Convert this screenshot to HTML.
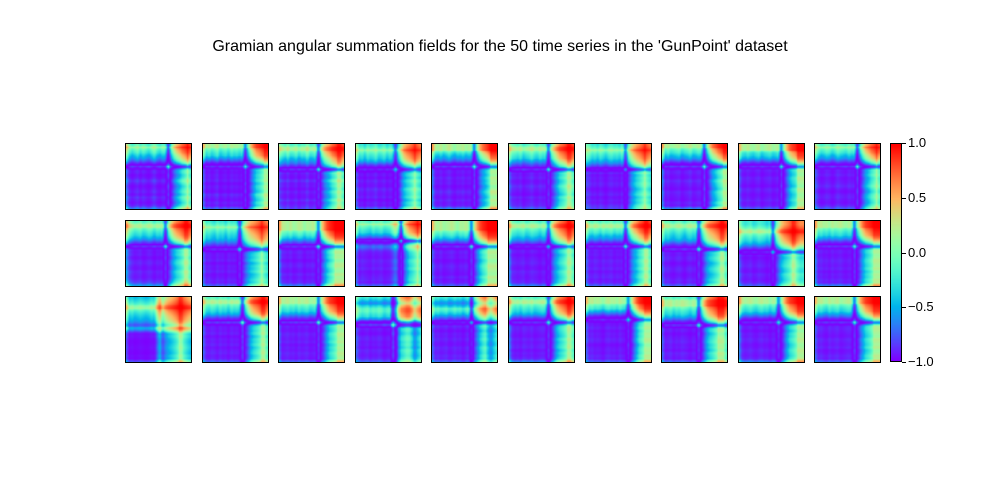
<!DOCTYPE html>
<html><head><meta charset="utf-8"><style>
body{margin:0;background:#fff;width:1000px;height:500px;overflow:hidden;position:relative;font-family:"Liberation Sans","DejaVu Sans",sans-serif}
.title{position:absolute;left:0;width:1000px;top:38px;text-align:center;font-size:16px;color:#000}
canvas.cell{position:absolute;width:67px;height:67px;box-sizing:border-box;border:1px solid #000}
.tick{position:absolute;left:908px;font-size:13px;color:#000}
.tm{position:absolute;left:902px;width:4px;height:1px;background:#000}
</style></head><body>
<div class="title">Gramian angular summation fields for the 50 time series in the 'GunPoint' dataset</div>
<div id="grid"></div>
<canvas id="cbar" width="12" height="220" style="position:absolute;left:890px;top:143px;width:12px;height:219px;box-sizing:border-box;border:1px solid #000"></canvas>
<div id="ticks"></div>
<script>
const s01=[0.6,0.25,0.1,0.2,0.3,0.1,0.25,0.15,0.05,0.2,0.35,0.15,0.05,0.2,0.15,-0.8,0.1,0.5,0.7,0.8,0.9,0.95,1,0.95];
const s02=[0.5,0.15,0.25,0.1,0.2,0.3,0.05,0.15,0.2,0.05,0.25,0.15,0.2,0.1,0.2,-0.75,0,0.45,0.7,0.85,0.9,0.95,1,1];
const s03=[0.4,0.25,0.15,0.3,0.1,0.15,0.25,0.05,0.2,0.15,0.35,0.1,0.15,0.25,-0.8,0.2,0.55,0.7,0.8,0.9,0.95,1,1,0.95];
const s04=[0.5,0.15,0.2,0.05,0.25,0.15,0.2,0.3,0.1,0.15,0.25,0.05,0.2,0.1,-0.7,0.1,0.5,0.75,0.85,0.9,0.95,1,0.95,0.9];
const s05=[0.6,0.2,0.15,0.25,0.1,0.2,0.3,0.15,0.05,0.2,0.15,0.25,0.1,0.2,0.15,-0.8,0.05,0.5,0.7,0.8,0.9,1,1,1];
const s06=[0.5,0.25,0.2,0.15,0.25,0.05,0.15,0.2,0.3,0.15,0.1,0.25,0.15,0.2,-0.8,0.2,0.5,0.7,0.85,0.9,0.95,1,1,0.95];
const s07=[0.4,0.3,0.15,0.2,0.1,0.25,0.15,0.05,0.2,0.25,0.15,0.2,0.1,0.3,-0.6,0.3,0.6,0.75,0.85,0.9,0.95,1,0.95,0.9];
const s08=[0.6,0.15,0.25,0.1,0.15,0.2,0.25,0.05,0.15,0.2,0.3,0.1,0.15,0.25,0.15,-0.8,0,0.45,0.7,0.8,0.9,0.95,1,1];
const s09=[0.5,0.2,0.15,0.25,0.15,0.1,0.2,0.25,0.05,0.15,0.2,0.25,0.1,0.15,0.25,-0.75,0.1,0.5,0.75,0.85,0.9,1,1,1];
const s10=[0.5,0.25,0.1,0.15,0.25,0.2,0.05,0.15,0.3,0.2,0.15,0.1,0.25,0.15,0.2,-0.8,0.05,0.45,0.7,0.8,0.9,0.95,1,0.95];
const s11=[0.7,0.4,0.25,0.15,0.2,0.25,0.1,0.15,0.25,0.2,0.05,0.2,0.15,0.2,-0.8,0.2,0.55,0.75,0.85,0.9,0.95,1,1,0.95];
const s12=[0.5,0.2,0.25,0.15,0.1,0.25,0.15,0.2,0.05,0.25,0.15,0.2,0.1,-0.75,0.2,0.5,0.7,0.8,0.85,0.9,0.95,1,0.95,0.9];
const s13=[0.6,0.25,0.2,0.15,0.25,0.1,0.15,0.25,0.2,0.05,0.2,0.15,0.25,0.1,-0.8,0.3,0.6,0.8,0.9,0.95,1,1,1,1];
const s14=[0.5,0.15,0.25,0.2,0.15,0.1,0.25,0.15,0.2,0.25,0.1,0.15,0.2,0.4,0.6,0.3,-0.7,0.4,0.7,0.85,0.9,0.95,1,0.95];
const s15=[0.5,0.2,0.15,0.25,0.1,0.15,0.2,0.25,0.15,0.05,0.2,0.15,0.25,0.1,-0.8,0.25,0.6,0.8,0.9,0.95,1,1,1,1];
const s16=[0.6,0.25,0.2,0.15,0.2,0.25,0.1,0.15,0.25,0.2,0.15,0.05,0.2,0.15,-0.7,0.3,0.6,0.75,0.85,0.9,0.95,1,1,0.95];
const s17=[0.5,0.2,0.15,0.25,0.2,0.1,0.25,0.15,0.2,0.25,0.1,0.2,0.15,0.2,-0.8,0.1,0.5,0.7,0.8,0.9,0.95,1,1,0.95];
const s18=[0.5,0.2,0.25,0.15,0.1,0.2,0.25,0.15,0.05,0.2,0.25,0.15,0.2,-0.8,0.1,0.45,0.7,0.8,0.85,0.9,0.95,1,1,0.95];
const s19=[0.5,0.25,0.15,0.2,0.25,0.1,0.15,0.25,0.2,0.15,0.05,0.2,-0.7,0.2,0.55,0.75,0.85,0.9,0.95,1,1,0.95,0.9,0.9];
const s20=[0.6,0.2,0.25,0.15,0.2,0.1,0.25,0.15,0.2,0.25,0.15,0.1,0.2,0.15,-0.8,0.05,0.45,0.7,0.85,0.9,0.95,1,1,1];
const s21=[0.5,0.1,0.15,0.05,0.1,0.15,0.1,0.05,0.1,0.2,0.15,0.6,0.85,0.5,0.7,0.8,0.85,0.9,0.95,1,1,0.95,0.9,0.85];
const s22=[0.5,0.2,0.15,0.25,0.2,0.1,0.25,0.15,0.2,0.05,0.25,0.15,0.2,0.1,-0.85,0.1,0.5,0.75,0.85,0.9,0.95,1,1,0.95];
const s23=[0.5,0.15,0.2,0.25,0.15,0.2,0.1,0.25,0.15,0.2,0.25,0.1,0.15,0.2,-0.85,0.1,0.45,0.7,0.85,0.9,0.95,1,1,1];
const s24=[0.5,0.25,0.15,0.2,0.25,0.1,0.2,0.15,0.25,0.2,0.05,0.15,0.2,-0.8,-0.3,0.6,0.85,0.9,0.95,0.95,0.85,0.65,0.8,0.9];
const s25=[0.5,0.2,0.25,0.15,0.2,0.25,0.1,0.15,0.25,0.15,0.2,0.05,0.2,0.3,-0.7,0.3,0.6,0.8,0.9,0.95,0.8,0.65,0.8,0.9];
const s26=[0.6,0.25,0.15,0.2,0.1,0.25,0.2,0.15,0.25,0.1,0.15,0.2,0.25,0.15,-0.8,0.1,0.5,0.75,0.85,0.9,0.95,1,1,0.95];
const s27=[0.5,0.2,0.25,0.15,0.2,0.15,0.05,0.2,0.25,0.15,0.2,0.1,0.25,0.15,0.1,-0.7,0.1,0.5,0.75,0.9,0.95,1,1,1];
const s28=[0.5,0.15,0.2,0.25,0.1,0.2,0.15,0.25,0.2,0.15,0.05,0.2,0.15,-0.8,0.1,0.5,0.75,0.85,0.9,0.95,1,1,1,0.95];
const s29=[0.6,0.25,0.15,0.2,0.25,0.15,0.1,0.2,0.25,0.15,0.2,0.05,0.2,0.15,-0.75,0,0.45,0.7,0.85,0.9,0.95,1,1,1];
const s30=[0.5,0.2,0.25,0.15,0.1,0.25,0.15,0.2,0.25,0.1,0.15,0.2,0.25,0.15,-0.8,0.05,0.5,0.7,0.85,0.9,0.95,1,1,1];
const series=[s01,s02,s03,s04,s05,s06,s07,s08,s09,s10,s11,s12,s13,s14,s15,s16,s17,s18,s19,s20,s21,s22,s23,s24,s25,s26,s27,s28,s29,s30];
const tickVals=[1.0,0.5,0.0,-0.5,-1.0];
const tickLabels=["1.0","0.5","0.0","\u22120.5","\u22121.0"];

function rainbow(v){const x=Math.max(0,Math.min(1,(v+1)/2));
 const r=Math.min(1,Math.abs(2*x-0.5)),g=Math.sin(Math.PI*x),b=Math.cos(Math.PI*x/2);
 return [r*255|0,g*255|0,b*255|0];}
function resample(k,n){const out=[];for(let i=0;i<n;i++){const t=i/(n-1)*(k.length-1);const a=Math.floor(t),b=Math.min(k.length-1,a+1),f=t-a;out.push(k[a]*(1-f)+k[b]*f);}return out;}
const N=48, grid=document.getElementById('grid');
series.forEach((s,idx)=>{
 const r=Math.floor(idx/10),c=idx%10;
 const cv=document.createElement('canvas');cv.width=N;cv.height=N;cv.className='cell';
 cv.style.left=(125+c*76.6)+'px';cv.style.top=(143+r*76.5)+'px';
 
 
 const x=resample(s,N),ctx=cv.getContext('2d'),img=ctx.createImageData(N,N);
 for(let i=0;i<N;i++)for(let j=0;j<N;j++){
  const v=x[i]*x[j]-Math.sqrt(Math.max(0,1-x[i]*x[i]))*Math.sqrt(Math.max(0,1-x[j]*x[j]));
  const col=rainbow(v),row=N-1-i,p=(row*N+j)*4;
  img.data[p]=col[0];img.data[p+1]=col[1];img.data[p+2]=col[2];img.data[p+3]=255;}
 ctx.putImageData(img,0,0);grid.appendChild(cv);
});
const cb=document.getElementById('cbar'),cctx=cb.getContext('2d');
for(let y=0;y<220;y++){const col=rainbow(1-2*y/219);cctx.fillStyle='rgb('+col.join(',')+')';cctx.fillRect(0,y,12,1);}
const tk=document.getElementById('ticks');
const yOf=v=>143+(1-v)/2*219;
tickVals.forEach((v,i)=>{
 const m=document.createElement('div');m.className='tm';m.style.top=yOf(v)+'px';
 
 
 tk.appendChild(m);
 const l=document.createElement('div');l.className='tick';l.style.top=(yOf(v)-8)+'px';l.textContent=tickLabels[i];
 
 
 tk.appendChild(l);
});
</script>
</body></html>
